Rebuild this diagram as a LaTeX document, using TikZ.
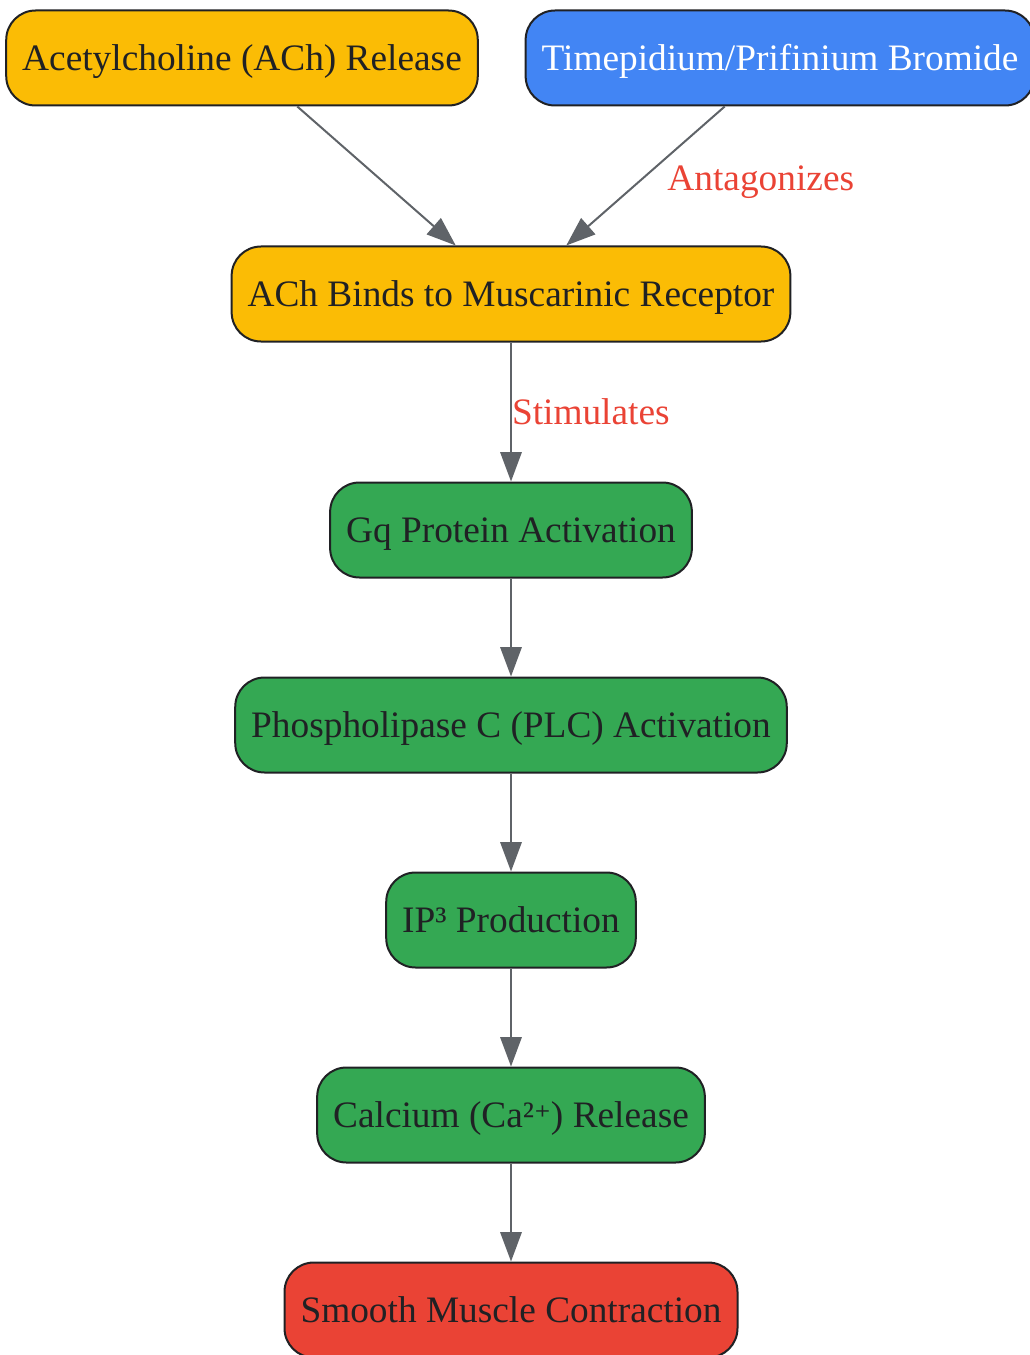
\documentclass[tikz,border=0pt]{standalone}
\usepackage{fontspec}
\setmainfont{Liberation Serif}
\newfontfamily\supfont{DejaVu Serif}
\usepackage{tikz}
\usetikzlibrary{arrows.meta, positioning}

\definecolor{achyellow}{HTML}{FBBC05}
\definecolor{drugblue}{HTML}{4285F4}
\definecolor{pathgreen}{HTML}{34A853}
\definecolor{endred}{HTML}{EA4335}
\definecolor{boxline}{HTML}{202124}
\definecolor{linkgrey}{HTML}{5F6368}

\begin{document}
\begin{tikzpicture}[x=0.75pt, y=-0.75pt,
  box/.style={draw=boxline, line width=1.5pt, rounded corners=22pt, minimum height=71.25pt,
              inner xsep=12pt, text height=22.5pt, text depth=3.5pt,
              font=\fontsize{28}{32}\selectfont, text=boxline},
  link/.style={draw=linkgrey, line width=1.5pt, -{Triangle[length=22pt, width=16pt]}},
  tag/.style={text=endred, font=\fontsize{28}{32}\selectfont, inner sep=0pt},
  node distance=73.5pt]

\useasboundingbox (0,0) rectangle (1030,1355);

\node [box, fill=achyellow                        ] (ach)     at (242,58)  {Acetylcholine (ACh) Release};
\node [box, fill=drugblue, text=white             ] (drug)    at (780,58)  {Timepidium/Prifinium Bromide};
\node [box, fill=achyellow                        ] (rec)     at (511,294) {ACh Binds to Muscarinic Receptor};
\node [box, fill=pathgreen, below=104.25pt of rec ] (gq)      {Gq Protein Activation};
\node [box, fill=pathgreen, below=of gq           ] (plc)     {Phospholipase C (PLC) Activation};
\node [box, fill=pathgreen, below=of plc          ] (ip3)     {IP³ Production};
\node [box, fill=pathgreen, below=of ip3          ] (calcium) {Calcium (Ca²{\supfont\fontsize{24}{28}\selectfont ⁺}) Release};
\node [box, fill=endred,    below=of calcium      ] (muscle)  {Smooth Muscle Contraction};

\path [link] (ach) -- (rec);
\path [link] (drug) -- node [tag, midway, anchor=west, xshift=15.75pt, yshift=-4.5pt] {Antagonizes} (rec);
\path [link] (rec) -- node [tag, midway, anchor=west] {Stimulates} (gq);
\path [link] (gq) -- (plc);
\path [link] (plc) -- (ip3);
\path [link] (ip3) -- (calcium);
\path [link] (calcium) -- (muscle);

\end{tikzpicture}
\end{document}
